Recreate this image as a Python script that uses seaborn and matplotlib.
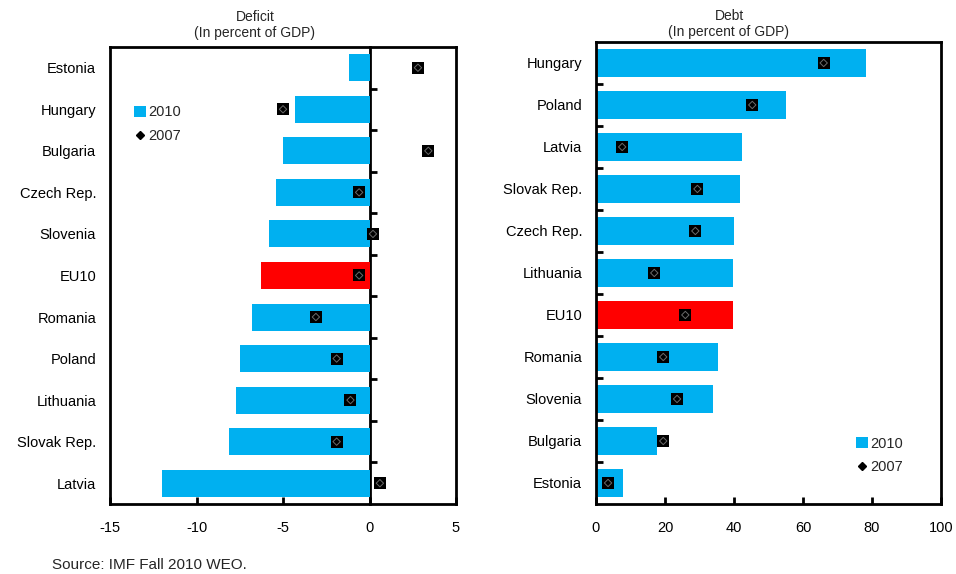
import numpy as np
import pandas as pd
import matplotlib
matplotlib.use("Agg")
import matplotlib.pyplot as plt
from matplotlib.patches import Patch
from matplotlib.lines import Line2D
import seaborn as sns

sns.set_theme(style="white")
plt.rcParams["font.family"] = ["Liberation Sans", "DejaVu Sans"]

CYAN = "#00B0F0"
RED = "#FF0000"

# Fiscal balance (percent of GDP)
deficit_countries = ["Estonia", "Hungary", "Bulgaria", "Czech Rep.", "Slovenia", "EU10",
                     "Romania", "Poland", "Lithuania", "Slovak Rep.", "Latvia"]
deficit_2010 = [-1.2, -4.3, -5.0, -5.4, -5.8, -6.3, -6.8, -7.5, -7.7, -8.1, -12.0]
deficit_2007 = [2.8, -5.0, 3.4, -0.6, 0.2, -0.6, -3.1, -1.9, -1.1, -1.9, 0.6]

# Gross public debt (percent of GDP)
debt_countries = ["Hungary", "Poland", "Latvia", "Slovak Rep.", "Czech Rep.", "Lithuania",
                  "EU10", "Romania", "Slovenia", "Bulgaria", "Estonia"]
debt_2010 = [78.4, 55.1, 42.2, 41.8, 40.1, 39.8, 39.8, 35.5, 34.0, 17.7, 7.8]
debt_2007 = [66.0, 45.3, 7.6, 29.4, 28.8, 16.9, 25.9, 19.5, 23.5, 19.5, 3.5]

xlabels_deficit = ["-15", "-10", "-5", "0", "5"]
xlabels_debt = ["0", "20", "40", "60", "80", "100"]

fig = plt.figure(figsize=(9.56, 5.74), dpi=100)
ax1 = fig.add_axes([0.1151, 0.1220, 0.3619, 0.7962])
ax2 = fig.add_axes([0.6234, 0.1220, 0.3609, 0.8049])


def draw_panel(ax, countries, v2010, v2007):
    df = pd.DataFrame({
        "country": countries,
        "y2010": v2010,
        "y2007": v2007,
        "group": ["agg" if c == "EU10" else "cty" for c in countries],
    })
    sns.barplot(data=df, x="y2010", y="country", hue="group", order=countries,
                palette={"agg": RED, "cty": CYAN}, dodge=False, width=0.65,
                legend=False, ax=ax, saturation=1, linewidth=0)
    sns.stripplot(data=df, x="y2007", y="country", order=countries, jitter=False,
                  marker="s", color="black", size=8.5, linewidth=0, ax=ax, zorder=5)
    ax.scatter(df["y2007"], np.arange(len(countries)), marker="D", s=14,
               facecolors="none", edgecolors="#6a6a6a", linewidths=0.7, zorder=6)
    ax.set_xlabel("")
    ax.set_ylabel("")
    ax.set_ylim(len(countries) - 0.5, -0.5)
    for s in ax.spines.values():
        s.set_linewidth(2)
        s.set_color("black")
        s.set_visible(True)
    ax.tick_params(axis="y", which="major", length=0, pad=10, labelsize=10.5,
                   labelcolor="black")
    ax.tick_params(axis="x", which="major", direction="in", length=5, width=2,
                   color="black", pad=12, labelsize=10.5, labelcolor="black")
    ax.grid(False)


draw_panel(ax1, deficit_countries, deficit_2010, deficit_2007)
draw_panel(ax2, debt_countries, debt_2010, debt_2007)

# Deficit panel: -15..5 with zero line carrying the category ticks
ax1.set_xlim(-15, 5)
ax1.set_xticks([-15, -10, -5, 0, 5], labels=xlabels_deficit)
zero_axis = ax1.secondary_yaxis(0.75)
boundaries = np.arange(0.5, len(deficit_countries) - 1, 1.0)
zero_axis.set_yticks(boundaries, labels=[""] * len(boundaries))
zero_axis.tick_params(direction="out", length=5, width=2, color="black",
                      labelleft=False, labelright=False)
for s in zero_axis.spines.values():
    s.set_linewidth(2)
    s.set_color("black")

# Debt panel: 0..100 with category ticks on the left spine
ax2.set_xlim(0, 100)
ax2.set_xticks([0, 20, 40, 60, 80, 100], labels=xlabels_debt)
ax2.set_yticks(np.arange(0.5, len(debt_countries) - 1, 1.0), minor=True)
ax2.tick_params(axis="y", which="minor", direction="in", length=5, width=2,
                color="black", left=True)

for ax in (ax1, ax2):
    ax.tick_params(axis="x", bottom=True)

# Panel titles
fig.text(255 / 956, 1 - 17 / 574, "Deficit", ha="center", va="center", fontsize=10)
fig.text(255 / 956, 1 - 33 / 574, "(In percent of GDP)", ha="center", va="center", fontsize=10)
fig.text(729 / 956, 1 - 16 / 574, "Debt", ha="center", va="center", fontsize=10)
fig.text(729 / 956, 1 - 32 / 574, "(In percent of GDP)", ha="center", va="center", fontsize=10)

# Legends
handles = [Patch(facecolor=CYAN, edgecolor="none", label="2010"),
           Line2D([], [], marker="D", color="black", linestyle="none", markersize=4,
                  label="2007")]
ax1.legend(handles=handles, loc="upper left", bbox_to_anchor=(0.07, 0.872), frameon=False,
           fontsize=10.5, handlelength=0.8, handleheight=0.8, handletextpad=0.15,
           labelspacing=0.65, borderaxespad=0, borderpad=0)
ax2.legend(handles=handles, loc="upper left", bbox_to_anchor=(0.755, 0.145), frameon=False,
           fontsize=10.5, handlelength=0.8, handleheight=0.8, handletextpad=0.15,
           labelspacing=0.65, borderaxespad=0, borderpad=0)

fig.text(52 / 956, 1 - 565 / 574, "Source: IMF Fall 2010 WEO.", ha="left", va="center",
         fontsize=11)

fig.savefig("out.png", dpi=100)
